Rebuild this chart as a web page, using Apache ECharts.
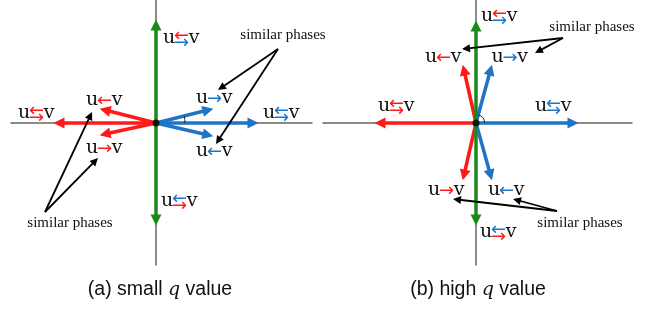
<!DOCTYPE html>
<html>
<head>
<meta charset="UTF-8">
<title>phase diagram</title>
<script type="text/javascript" src="https://cdn.jsdelivr.net/npm/echarts@6/dist/echarts.min.js"></script>
</head>
<body style="margin:0;background:#fff;">

<div id="box" style="width:657px;height:309px;"></div>

<script type="text/javascript">

// vector ends (arrowhead centres), panel a: small q, panel b: high q, origin at 0,0
var redA = [[-9.7, 0], [-5.1, 1.3], [-5.1, -1.1]];
var blueA = [[9.7, 0], [5.2, 1.3], [5.2, -1.2]];
var greenA = [[0, 9.8], [0, -9.7]];
var redB = [[-9.6, 0], [-1.2, 5.3], [-1.2, -5.2]];
var blueB = [[9.7, 0], [1.45, 5.3], [1.45, -5.2]];
var greenB = [[0, 9.7], [0, -9.7]];

// "similar phases" pointers: [from, to]
var pointA = [[[-11.1, -8.9], [-6.57, 0.74]], [[-11.1, -8.9], [-6.08, -3.79]],
              [[12.2, 7.4], [6.53, 3.53]], [[12.2, 7.4], [6.22, -1.76]]];
var pointB = [[[8.7, 8.5], [-1.0, 7.44]], [[8.7, 8.5], [6.25, 7.19]],
              [[8.1, -8.8], [-1.9, -7.65]], [[8.1, -8.8], [4.09, -7.7]]];

// labels: x, y, kind (L = u←v, R = u→v, D = u⇆v), wave of the arrows (r / b)
var labelsA = [[2.55, 8.5, 'D', 'rb'], [-11.95, 1.0, 'D', 'rr'], [-5.15, 2.3, 'L', 'r'],
               [-5.15, -2.5, 'R', 'r'], [5.85, 2.5, 'R', 'b'], [12.55, 1.0, 'D', 'bb'],
               [5.85, -2.8, 'L', 'b'], [2.35, -7.8, 'D', 'br']];
var labelsB = [[2.35, 10.7, 'D', 'rb'], [-3.25, 6.6, 'L', 'r'], [3.4, 6.6, 'R', 'b'],
               [-7.95, 1.7, 'D', 'rr'], [7.75, 1.7, 'D', 'bb'], [-2.95, -6.7, 'R', 'r'],
               [3.05, -6.7, 'L', 'b'], [2.25, -10.9, 'D', 'br']];

var notesA = [[12.7, 8.8], [-8.6, -10.0]];
var notesB = [[11.6, 9.6], [10.4, -10.0]];

// angle arcs: radius, angle of the upper blue vector (deg)
var arcA = [[2.9, 13.8]];
var arcB = [[0.85, 74.6]];

var captions = ['(a) small {q|q} value', '(b) high {q|q} value'];

var COL = {r: '#ff1a1a', b: '#1f74c4', g: '#1a8a1a'};

var mychart = echarts.init(document.getElementById('box'));

function vecSeries(list, color, idx, z) {
  return {
    type: 'lines', coordinateSystem: 'cartesian2d', xAxisIndex: idx, yAxisIndex: idx,
    symbol: ['none', 'triangle'], symbolSize: [10, 11], z: z, silent: true,
    lineStyle: {color: color, width: 3.5, opacity: 1},
    data: list.map(function (p) { return {coords: [[0, 0], p]}; })
  };
}

function pointSeries(list, idx) {
  return {
    type: 'lines', coordinateSystem: 'cartesian2d', xAxisIndex: idx, yAxisIndex: idx,
    symbol: ['none', 'triangle'], symbolSize: [7, 8], z: 6, silent: true,
    lineStyle: {color: '#000', width: 1.8, opacity: 1},
    data: list.map(function (p) { return {coords: p}; })
  };
}

function txt(x, y, s, color, size, family) {
  return {type: 'text', x: x, y: y,
    style: {text: s, fill: color, fontSize: size, fontFamily: family, align: 'center', verticalAlign: 'middle'}};
}

function labelSeries(list, idx) {
  return {
    type: 'custom', coordinateSystem: 'cartesian2d', xAxisIndex: idx, yAxisIndex: idx, z: 8, silent: true,
    data: list.map(function (l) { return [l[0], l[1]]; }),
    renderItem: function (params, api) {
      var l = list[params.dataIndex];
      var p = api.coord([l[0], l[1]]);
      var kids = [
        txt(p[0] - 12.5, p[1], 'u', '#111', 19, 'DejaVu Serif'),
        txt(p[0] + 12.5, p[1] + 0.5, 'v', '#111', 19, 'DejaVu Serif')
      ];
      if (l[2] === 'D') {
        kids.push(txt(p[0], p[1] - 1.5, '\u2190', COL[l[3][0]], 18, 'DejaVu Sans'));
        kids.push(txt(p[0], p[1] + 5, '\u2192', COL[l[3][1]], 18, 'DejaVu Sans'));
      } else {
        kids.push(txt(p[0], p[1] + 1.5, l[2] === 'L' ? '\u2190' : '\u2192', COL[l[3]], 18, 'DejaVu Sans'));
      }
      return {type: 'group', children: kids};
    }
  };
}

function noteSeries(list, idx) {
  return {
    type: 'custom', coordinateSystem: 'cartesian2d', xAxisIndex: idx, yAxisIndex: idx, z: 8, silent: true,
    data: list,
    renderItem: function (params, api) {
      var p = api.coord([api.value(0), api.value(1)]);
      return txt(p[0], p[1], 'similar phases', '#111', 15, 'Liberation Serif');
    }
  };
}

function arcSeries(list, idx) {
  return {
    type: 'custom', coordinateSystem: 'cartesian2d', xAxisIndex: idx, yAxisIndex: idx, z: 4, silent: true,
    data: list,
    renderItem: function (params, api) {
      var c = api.coord([0, 0]);
      var r = api.size([api.value(0), 0])[0];
      return {type: 'arc',
        shape: {cx: c[0], cy: c[1], r: r, startAngle: -api.value(1) * Math.PI / 180, endAngle: 0},
        style: {stroke: '#222', fill: null, lineWidth: 1}};
    }
  };
}

function axisX(idx, min, max) {
  return {type: 'value', gridIndex: idx, min: min, max: max,
    axisLine: {onZero: true, lineStyle: {color: '#666', width: 1.5}},
    axisTick: {show: false}, axisLabel: {show: false}, splitLine: {show: false}};
}
function axisY(idx) {
  return {type: 'value', gridIndex: idx, min: -14.2, max: 12.3,
    axisLine: {onZero: true, lineStyle: {color: '#666', width: 1.5}},
    axisTick: {show: false}, axisLabel: {show: false}, splitLine: {show: false}};
}

var capStyle = {fill: '#111', fontSize: 19.5, fontFamily: 'Liberation Sans', align: 'center', verticalAlign: 'middle',
  rich: {q: {fontFamily: 'DejaVu Serif', fontStyle: 'italic', fontSize: 19, fill: '#111'}}};

var option = {
  animation: false,
  grid: [
    {left: 11, top: 0, width: 301, height: 265},
    {left: 323, top: 0, width: 309, height: 265}
  ],
  xAxis: [axisX(0, -14.5, 15.6), axisX(1, -15.3, 15.6)],
  yAxis: [axisY(0), axisY(1)],
  graphic: [
    {type: 'text', x: 160, y: 290, style: Object.assign({text: captions[0]}, capStyle)},
    {type: 'text', x: 478, y: 290, style: Object.assign({text: captions[1]}, capStyle)}
  ],
  series: [
    vecSeries(redA, COL.r, 0, 3),
    vecSeries(blueA, COL.b, 0, 3),
    vecSeries(greenA, COL.g, 0, 4),
    vecSeries(redB, COL.r, 1, 3),
    vecSeries(blueB, COL.b, 1, 3),
    vecSeries(greenB, COL.g, 1, 4),
    arcSeries(arcA, 0),
    arcSeries(arcB, 1),
    pointSeries(pointA, 0),
    pointSeries(pointB, 1),
    {type: 'scatter', xAxisIndex: 0, yAxisIndex: 0, data: [[0, 0]], symbolSize: 7, z: 7, silent: true,
      itemStyle: {color: '#000'}},
    {type: 'scatter', xAxisIndex: 1, yAxisIndex: 1, data: [[0, 0]], symbolSize: 7, z: 7, silent: true,
      itemStyle: {color: '#000'}},
    labelSeries(labelsA, 0),
    labelSeries(labelsB, 1),
    noteSeries(notesA, 0),
    noteSeries(notesB, 1)
  ]
};

mychart.setOption(option);
</script>
</body>
</html>
